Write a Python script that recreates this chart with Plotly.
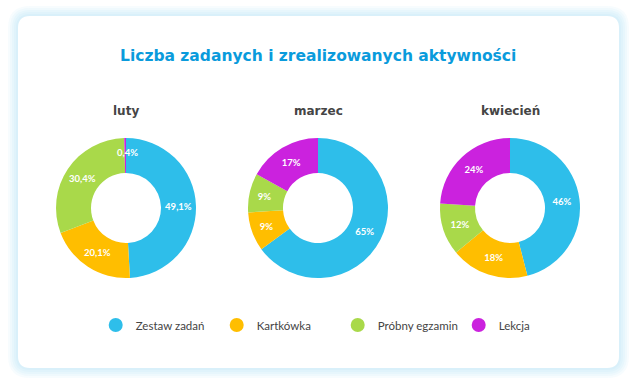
import math
import plotly.graph_objects as go

# ---- data ----
categories = ["Zestaw zadań", "Kartkówka", "Próbny egzamin", "Lekcja"]
months = ["luty", "marzec", "kwiecień"]
luty = [49.1, 20.1, 30.4, 0.4]
marzec = [65, 9, 9, 17]
kwiecien = [46, 18, 12, 24]
series = [luty, marzec, kwiecien]
title_text = "Liczba zadanych i zrealizowanych aktywności"

# ---- style ----
colors = ["#2EBEEA", "#FFBE00", "#A9D94A", "#CB22DE"]
W, H = 636, 387
centers_x = [126, 318, 510]
cy = 208
R = 70
decimals = [1, 0, 0]
FONT = "Lato"
TITLE_FONT = "DejaVu Sans"
SMALL = 2.0  # slices below this share get their label placed by hand


def rrect(x0, y0, x1, y1, r):
    return (f"M {x0+r} {y0} L {x1-r} {y0} Q {x1} {y0} {x1} {y0+r} "
            f"L {x1} {y1-r} Q {x1} {y1} {x1-r} {y1} L {x0+r} {y1} "
            f"Q {x0} {y1} {x0} {y1-r} L {x0} {y0+r} Q {x0} {y0} {x0+r} {y0} Z")


fig = go.Figure()
annotations = []
label_font = dict(family=FONT, size=9.5, color="white", weight="bold")

for i, vals in enumerate(series):
    cx = centers_x[i]
    fmt = "%{value:." + str(decimals[i]) + "f}%"
    total = sum(vals)
    tmpl = [fmt if v / total * 100 >= SMALL else "" for v in vals]
    fig.add_trace(go.Pie(
        labels=categories, values=vals, sort=False, direction="clockwise",
        rotation=0, hole=0.5,
        marker=dict(colors=colors, line=dict(width=0)),
        texttemplate=tmpl, textposition="inside",
        insidetextorientation="horizontal",
        textfont=label_font,
        hoverinfo="skip", showlegend=False,
        domain=dict(x=[(cx - R) / W, (cx + R) / W],
                    y=[1 - (cy + R) / H, 1 - (cy - R) / H]),
    ))
    # labels for very thin slices, placed at their mid-angle inside the ring
    cum = 0
    for v in vals:
        if v / total * 100 < SMALL:
            ang = 2 * math.pi * (cum + v / 2) / total
            r = R * 0.8
            txt = f"{v:.{decimals[i]}f}".replace(".", ",") + "%"
            annotations.append(dict(
                x=cx + r * math.sin(ang) + 2, y=cy - r * math.cos(ang),
                xref="x", yref="y", text=txt, showarrow=False,
                xanchor="center", yanchor="middle", font=label_font))
        cum += v

for name, c in zip(categories, colors):
    fig.add_trace(go.Scatter(
        x=[None], y=[None], mode="markers", name=name,
        marker=dict(size=14, color=c, symbol="circle"),
        hoverinfo="skip"))

shapes = []
cx0, cy0, cx1, cy1 = 18, 16, 619, 368
for e in [10, 8, 6, 4, 2]:
    shapes.append(dict(type="path", xref="x", yref="y", layer="below",
                       path=rrect(cx0 - e, cy0 - e, cx1 + e, cy1 + e, 12 + e),
                       fillcolor="rgba(120,200,240,0.06)", line=dict(width=0)))
shapes.append(dict(type="path", xref="x", yref="y", layer="below",
                   path=rrect(cx0, cy0, cx1, cy1, 12),
                   fillcolor="white", line=dict(width=0)))

annotations.append(dict(x=W / 2, y=56, xref="x", yref="y", text=title_text,
                        showarrow=False, xanchor="center", yanchor="middle",
                        font=dict(family=TITLE_FONT, size=15.5, color="#0A9BDC",
                                  weight="bold")))
for m, cx in zip(months, centers_x):
    annotations.append(dict(x=cx, y=111, xref="x", yref="y", text=m,
                            showarrow=False, xanchor="center", yanchor="middle",
                            font=dict(family=TITLE_FONT, size=12, color="#454545",
                                      weight="bold")))

fig.update_layout(
    width=W, height=H, autosize=False,
    margin=dict(l=0, r=0, t=0, b=0),
    paper_bgcolor="white", plot_bgcolor="rgba(0,0,0,0)",
    separators=", ",
    uniformtext=dict(minsize=9.5, mode="show"),
    xaxis=dict(range=[0, W], visible=False, fixedrange=True, domain=[0, 1]),
    yaxis=dict(range=[H, 0], visible=False, fixedrange=True, domain=[0, 1]),
    shapes=shapes, annotations=annotations,
    legend=dict(orientation="h", x=0.531, xanchor="center",
                y=1 - 325 / H, yanchor="middle",
                entrywidth=76, entrywidthmode="pixels",
                font=dict(family=FONT, size=11.5, color="#444444"),
                bgcolor="rgba(0,0,0,0)"),
    showlegend=True,
)

fig.write_html("out.html", config={"displayModeBar": False},
               post_script="document.body.style.margin='0';")
